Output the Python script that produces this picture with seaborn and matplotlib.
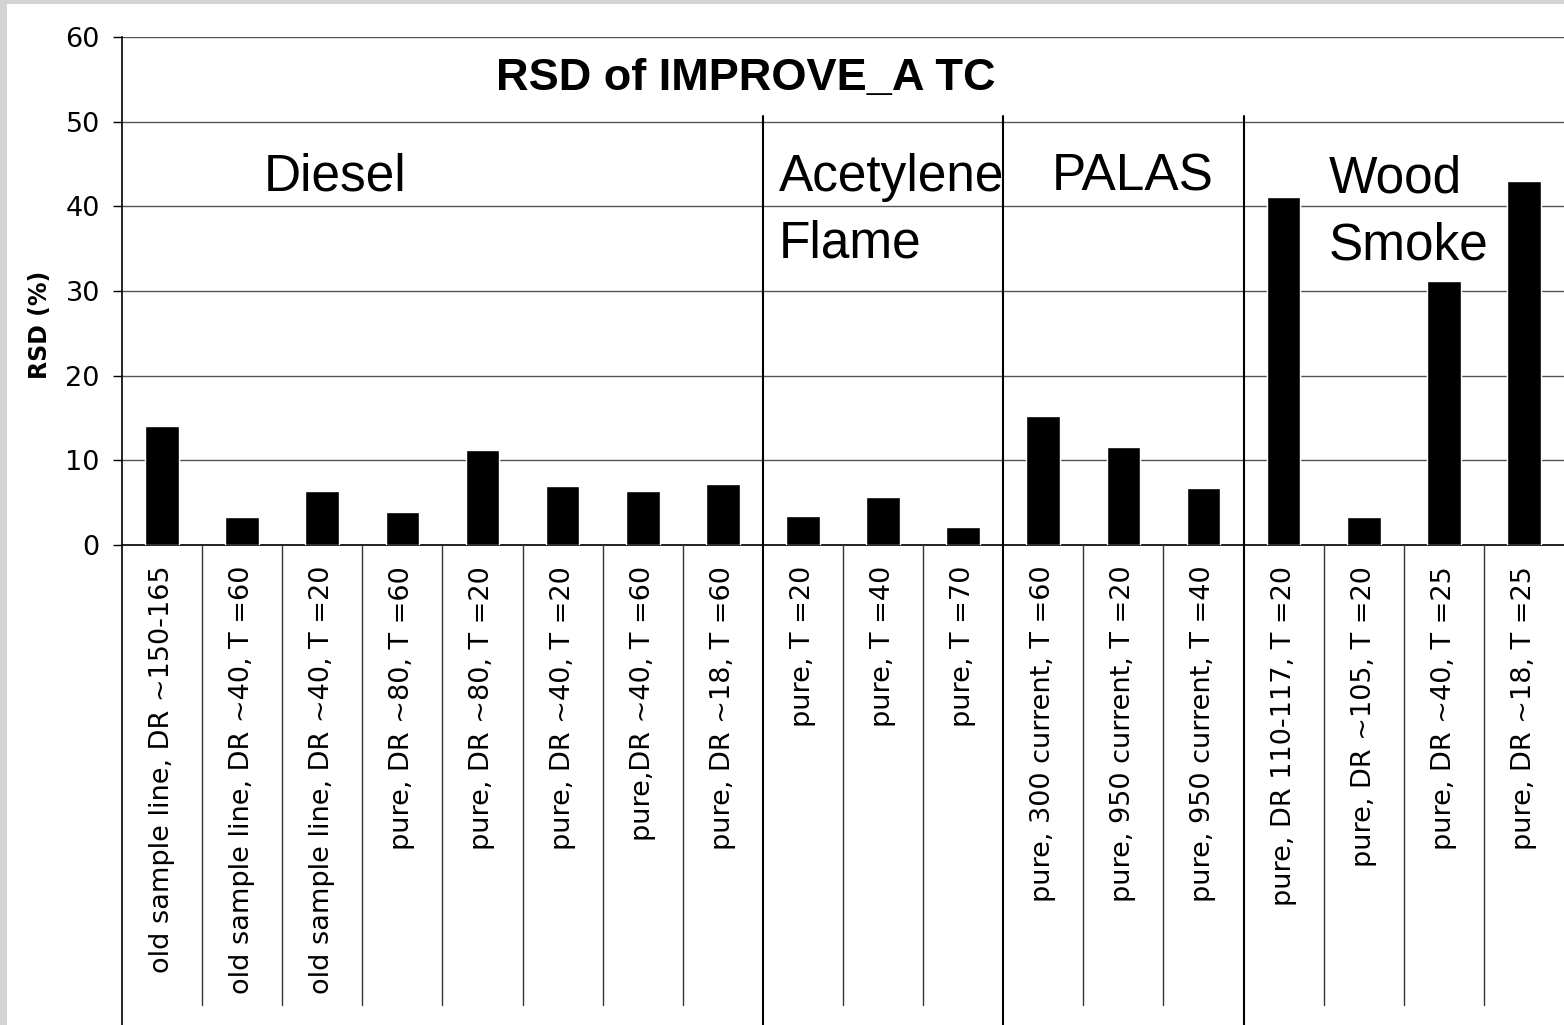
#!/usr/bin/env python3
import seaborn as sns
import matplotlib
matplotlib.use("Agg")
import matplotlib.pyplot as plt
from matplotlib.patches import Rectangle
import pandas as pd

# data
labels = [
        "old sample line, DR ~150-165",
        "old sample line, DR ~40, T =60",
        "old sample line, DR ~40, T =20",
        "pure, DR ~80, T =60",
        "pure, DR ~80, T =20",
        "pure, DR ~40, T =20",
        "pure,DR ~40, T =60",
        "pure, DR ~18, T =60",
        "pure, T =20",
        "pure, T =40",
        "pure, T =70",
        "pure, 300 current, T =60",
        "pure, 950 current, T =20",
        "pure, 950 current, T =40",
        "pure, DR 110-117, T =20",
        "pure, DR ~105, T =20",
        "pure, DR ~40, T =25",
        "pure, DR ~18, T =25",
]
rsd = [14.0, 3.3, 6.4, 3.9, 11.2, 7.0, 6.4, 7.2,
       3.4, 5.7, 2.1,
       15.2, 11.6, 6.7,
       41.1, 3.3, 31.2, 43.0]
group_names = ["Diesel", "Acetylene\nFlame", "PALAS", "Wood\nSmoke"]
group_sizes = [8, 3, 3, 4]
y_ticks = [0, 10, 20, 30, 40, 50, 60]

# where the group names sit (x in category units, baseline of last line in data units)
group_label_pos = [(1.27, 41.9), (7.70, 33.9), (11.10, 41.9), (14.56, 33.7)]

sns.set_style("white")
plt.rcParams["font.family"] = ["DejaVu Sans"]
plt.rcParams["text.color"] = "black"
plt.rcParams["axes.labelcolor"] = "black"
plt.rcParams["xtick.color"] = "black"
plt.rcParams["ytick.color"] = "black"

df = pd.DataFrame({"label": labels, "rsd": rsd})

fig = plt.figure(figsize=(15.64, 10.25), dpi=100)
fig.patch.set_facecolor("#d3d3d3")
fig.add_artist(Rectangle((7 / 1564, 0), 1, 1 - 4 / 1025, transform=fig.transFigure,
                         facecolor="white", edgecolor="none", zorder=0))

ax = fig.add_axes([122 / 1564, 1 - 545 / 1025, 1442 / 1564, 508 / 1025])
ax.set_facecolor("none")

sns.barplot(data=df, x="label", y="rsd", order=labels, color="black",
            saturation=1, width=0.42, ax=ax, zorder=3)

ax.set_ylim(0, 60)
ax.set_xlim(-0.5, len(labels) - 0.5)
ax.set_yticks(y_ticks)
ax.set_xlabel("")

ax.yaxis.grid(True, color="#555555", linewidth=1)
ax.set_axisbelow(True)
for s in ["top", "right"]:
        ax.spines[s].set_visible(False)
ax.spines["left"].set_color("black")
ax.spines["bottom"].set_color("black")
ax.spines["left"].set_linewidth(1.2)
ax.spines["bottom"].set_linewidth(1.2)

ax.tick_params(axis="y", which="both", left=True, length=6.5, width=1,
               labelsize=19.5, pad=9.5, color="black", labelcolor="black")
ax.tick_params(axis="x", length=0, pad=15, labelsize=19.5, labelcolor="black")
plt.setp(ax.get_xticklabels(), rotation=90, ha="center", va="top")

# y label (off-centre like the original)
ax.set_ylabel("RSD (%)", fontsize=17, fontweight="bold", color="black")
ax.yaxis.label.set_va("center")
ax.yaxis.set_label_coords(-82 / 1442, (545 - 325) / 508)

# category separators under the axis, group separators through the plot
bounds = []
acc = 0
for n in group_sizes[:-1]:
        acc += n
        bounds.append(acc - 0.5)
for k in range(1, len(labels)):
        xb = k - 0.5
        if xb in bounds:
                ax.plot([xb, xb], [50.7, -60], color="black", lw=1.5, clip_on=False, zorder=4)
        else:
                ax.plot([xb, xb], [0, -54.3], color="#333333", lw=1, clip_on=False, zorder=4)
ax.plot([-0.5, -0.5], [0, -60], color="black", lw=1.2, clip_on=False, zorder=4)

# group names
for name, (gx, gy) in zip(group_names, group_label_pos):
        ax.text(gx, gy, name, fontsize=37, family=["Liberation Sans", "DejaVu Sans"],
                ha="left", va="baseline", linespacing=1.48, color="black", zorder=5)

# title inside the plot
ax.text(0.4327, 0.919, "RSD of IMPROVE_A TC", transform=ax.transAxes,
        fontsize=32.5, fontweight="bold", family=["Liberation Sans", "DejaVu Sans"],
        ha="center", va="center", color="black", zorder=5)

fig.savefig("out.png", dpi=100, facecolor=fig.get_facecolor())
